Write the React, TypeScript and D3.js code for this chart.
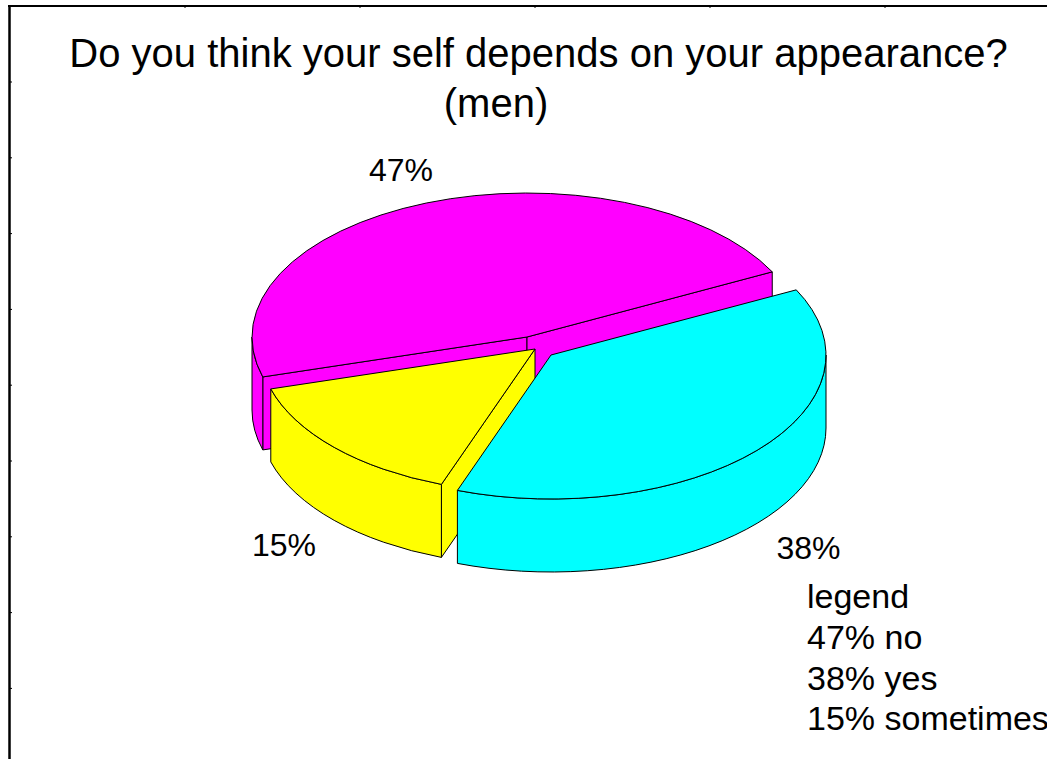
import React from "react";
import * as d3 from "d3";

const categories = ["no", "yes", "sometimes"];
const values = [47, 38, 15];
const colors = ["#FF00FF", "#00FFFF", "#FFFF00"];
const titleLines = ["Do you think your self depends on your appearance?", "(men)"];
const legendTitle = "legend";

// layout
const W = 1047, H = 759;
const CX = 527, CY = 337, RX = 275, RY = 144, DEPTH = 73;
const START_DEG = 163.9; // screen angle (clockwise from +x) where first slice starts
const explode = [[0, 0], [24, 18], [8, 12]];
const drawOrder = [0, 2, 1];
const LABEL_R = 1.25;
const FONT = "'Liberation Sans', Arial, Helvetica, sans-serif";

export default function App() {
  const pie = d3.pie<number>().sort(null)
    .startAngle(((START_DEG + 90) * Math.PI) / 180)
    .endAngle(((START_DEG + 90) * Math.PI) / 180 + 2 * Math.PI);
  const arcs = pie(values);

  const slices = arcs.map((a, i) => {
    const t0 = a.startAngle - Math.PI / 2;
    const t1 = a.endAngle - Math.PI / 2;
    const cx = CX + explode[i][0];
    const cy = CY + explode[i][1];
    const P = (t: number, dz = 0): [number, number] => [cx + RX * Math.cos(t), cy + RY * Math.sin(t) + dz];
    const f = (p: [number, number]) => `${p[0].toFixed(2)},${p[1].toFixed(2)}`;
    const large = t1 - t0 > Math.PI ? 1 : 0;
    const top = `M${cx},${cy}L${f(P(t0))}A${RX},${RY} 0 ${large} 1 ${f(P(t1))}Z`;
    const faces: string[] = [];
    if (Math.cos(t0) < 0) {
      faces.push(`M${cx},${cy}L${f(P(t0))}L${f(P(t0, DEPTH))}L${cx},${cy + DEPTH}Z`);
    }
    if (Math.cos(t1) > 0) {
      faces.push(`M${cx},${cy}L${f(P(t1))}L${f(P(t1, DEPTH))}L${cx},${cy + DEPTH}Z`);
    }
    const walls: string[] = [];
    for (let k = -1; k <= 2; k++) {
      const s = Math.max(t0, k * 2 * Math.PI);
      const e = Math.min(t1, k * 2 * Math.PI + Math.PI);
      if (e > s + 1e-6) {
        const lg = e - s > Math.PI ? 1 : 0;
        walls.push(
          `M${f(P(s))}A${RX},${RY} 0 ${lg} 1 ${f(P(e))}L${f(P(e, DEPTH))}A${RX},${RY} 0 ${lg} 0 ${f(P(s, DEPTH))}Z`
        );
      }
    }
    const mid = (t0 + t1) / 2;
    const lx = cx + LABEL_R * RX * Math.cos(mid);
    const ly = cy + LABEL_R * RY * Math.sin(mid) + (Math.sin(mid) > 0 ? DEPTH : 0);
    return { i, top, faces, walls, lx, ly };
  });

  const leftTicks = d3.range(9).map((k) => 82 + k * 75.8);
  const topTicks = d3.range(5).map((k) => 185 + k * 175);

  return (
    <svg width={W} height={H} style={{ position: "absolute", left: 0, top: 0, background: "#fff" }}>
      <rect x={0} y={0} width={W} height={H} fill="#fff" />
      {/* frame */}
      <line x1={9.5} y1={5} x2={9.5} y2={H} stroke="#000" strokeWidth={2.5} />
      <line x1={8} y1={6} x2={W} y2={6} stroke="#000" strokeWidth={2} />
      {leftTicks.map((y, k) => (
        <line key={"lt" + k} x1={10} x2={12} y1={y} y2={y} stroke="#000" strokeWidth={1} />
      ))}
      {topTicks.map((x, k) => (
        <line key={"tt" + k} x1={x} x2={x} y1={6} y2={8} stroke="#000" strokeWidth={1} />
      ))}
      {/* title */}
      <text x={538.5} y={67} fontFamily={FONT} fontSize={40} textAnchor="middle" fill="#000">
        {titleLines[0]}
      </text>
      <text x={496} y={117} fontFamily={FONT} fontSize={40} textAnchor="middle" fill="#000">
        {titleLines[1]}
      </text>
      {/* pie */}
      {drawOrder.map((i) => {
        const s = slices[i];
        return (
          <g key={"s" + i} fill={colors[i]} stroke="#000" strokeWidth={1} strokeLinejoin="round">
            {s.faces.map((d, j) => <path key={"f" + j} d={d} />)}
            {s.walls.map((d, j) => <path key={"w" + j} d={d} />)}
            <path d={s.top} />
          </g>
        );
      })}
      {/* labels */}
      {slices.map((s) => (
        <text key={"l" + s.i} x={s.lx} y={s.ly + 11.5} fontFamily={FONT} fontSize={32} textAnchor="middle" fill="#000">
          {`${values[s.i]}%`}
        </text>
      ))}
      {/* legend */}
      <text x={807} y={608} fontFamily={FONT} fontSize={34} fill="#000">{legendTitle}</text>
      {categories.map((c, i) => (
        <text key={"lg" + i} x={807} y={649 + i * 40.5} fontFamily={FONT} fontSize={34} fill="#000">
          {`${values[i]}% ${c}`}
        </text>
      ))}
    </svg>
  );
}
